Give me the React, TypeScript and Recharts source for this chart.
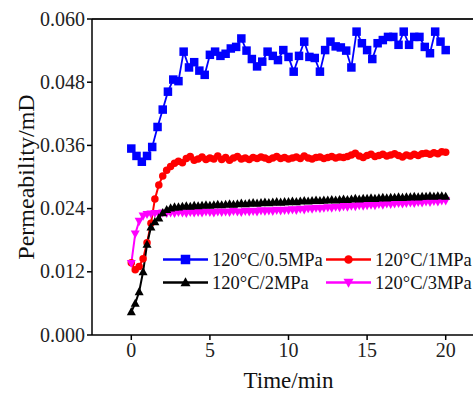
import React from "react";
import { LineChart, Line, XAxis, YAxis, ReferenceLine, Legend } from "recharts";

// ---- data ----
const timeBlue = [0,0.33,0.67,1,1.33,1.67,2,2.33,2.67,3,3.33,3.67,4,4.33,4.67,5,5.33,5.67,6,6.33,6.67,7,7.33,7.67,8,8.33,8.67,9,9.33,9.67,10,10.33,10.67,11,11.33,11.67,12,12.33,12.67,13,13.33,13.67,14,14.33,14.67,15,15.33,15.67,16,16.33,16.67,17,17.33,17.67,18,18.33,18.67,19,19.33,19.67,20];
const blue05MPa = [
  0.0354,0.0340,0.0329,0.0340,0.0357,0.0395,0.0428,0.0462,0.0485,0.0482,
  0.0538,0.0508,0.0518,0.0502,0.0494,0.0532,0.0538,0.0530,0.0534,0.0544,
  0.0547,0.0563,0.0540,0.0524,0.0510,0.0519,0.0538,0.0530,0.0522,0.0541,
  0.0528,0.0500,0.0530,0.0557,0.0528,0.0526,0.0500,0.0541,0.0557,0.0548,
  0.0546,0.0540,0.0508,0.0576,0.0554,0.0541,0.0524,0.0554,0.0560,0.0566,
  0.0566,0.0551,0.0576,0.0551,0.0566,0.0566,0.0547,0.0535,0.0576,0.0557,
  0.0541,
];

const timeDense = [
  0,0.25,0.5,0.75,1,1.25,1.5,1.75,2,2.25,
  2.5,2.75,3,3.25,3.5,3.75,4,4.25,4.5,4.75,
  5,5.25,5.5,5.75,6,6.25,6.5,6.75,7,7.25,
  7.5,7.75,8,8.25,8.5,8.75,9,9.25,9.5,9.75,
  10,10.25,10.5,10.75,11,11.25,11.5,11.75,12,12.25,
  12.5,12.75,13,13.25,13.5,13.75,14,14.25,14.5,14.75,
  15,15.25,15.5,15.75,16,16.25,16.5,16.75,17,17.25,
  17.5,17.75,18,18.25,18.5,18.75,19,19.25,19.5,19.75,
  20,
];
const red1MPa = [
  0.0137,0.0124,0.0130,0.0145,0.0175,0.0212,0.0258,0.0285,0.0302,0.0313,
  0.0320,0.0326,0.0330,0.0327,0.0335,0.0339,0.0332,0.0334,0.0338,0.0333,
  0.0336,0.0334,0.0340,0.0333,0.0337,0.0332,0.0336,0.0339,0.0334,0.0336,
  0.0333,0.0337,0.0335,0.0338,0.0336,0.0333,0.0336,0.0339,0.0335,0.0337,
  0.0334,0.0336,0.0338,0.0335,0.0340,0.0336,0.0334,0.0337,0.0338,0.0335,
  0.0337,0.0339,0.0336,0.0338,0.0337,0.0339,0.0342,0.0345,0.0340,0.0337,
  0.0341,0.0343,0.0339,0.0341,0.0343,0.0340,0.0342,0.0344,0.0341,0.0338,
  0.0342,0.0340,0.0343,0.0341,0.0344,0.0345,0.0343,0.0346,0.0344,0.0348,
  0.0347,
];
const black2MPa = [
  0.0044,0.0060,0.0082,0.0120,0.0172,0.0205,0.0215,0.0222,0.0232,0.0238,
  0.0241,0.0243,0.0243,0.0244,0.0245,0.0244,0.0246,0.0245,0.0246,0.0247,
  0.0246,0.0247,0.0248,0.0247,0.0248,0.0249,0.0248,0.0249,0.0250,0.0249,
  0.0250,0.0251,0.0250,0.0251,0.0252,0.0251,0.0252,0.0253,0.0252,0.0253,
  0.0253,0.0254,0.0253,0.0254,0.0255,0.0254,0.0255,0.0256,0.0255,0.0256,
  0.0256,0.0257,0.0256,0.0257,0.0258,0.0257,0.0258,0.0259,0.0258,0.0259,
  0.0259,0.0260,0.0259,0.0260,0.0261,0.0260,0.0261,0.0261,0.0262,0.0261,
  0.0262,0.0262,0.0263,0.0262,0.0263,0.0263,0.0264,0.0263,0.0264,0.0264,
  0.0263,
];
const magenta3MPa = [
  0.0136,0.0192,0.0216,0.0226,0.0229,0.0230,0.0231,0.0230,0.0232,0.0231,
  0.0232,0.0231,0.0233,0.0232,0.0231,0.0233,0.0232,0.0233,0.0232,0.0234,
  0.0233,0.0232,0.0234,0.0233,0.0234,0.0233,0.0235,0.0234,0.0233,0.0235,
  0.0234,0.0235,0.0234,0.0236,0.0235,0.0236,0.0235,0.0237,0.0236,0.0237,
  0.0237,0.0238,0.0237,0.0239,0.0238,0.0240,0.0239,0.0241,0.0240,0.0241,
  0.0242,0.0241,0.0243,0.0242,0.0244,0.0243,0.0245,0.0244,0.0246,0.0245,
  0.0246,0.0247,0.0246,0.0248,0.0247,0.0249,0.0248,0.0249,0.0250,0.0249,
  0.0250,0.0251,0.0250,0.0252,0.0251,0.0253,0.0252,0.0254,0.0253,0.0255,
  0.0255,
];

const xTicks = [0, 5, 10, 15, 20];
const yTicks = [0, 0.012, 0.024, 0.036, 0.048, 0.06];

type Shape = "square" | "circle" | "triangle" | "triangleDown";

const zip = (ts: number[], vs: number[]) => ts.map((t, i) => ({ t, v: vs[i] }));

const series = [
  { key: "b", name: "120°C/0.5MPa", color: "#0000FF", shape: "square" as Shape, size: 8.5, data: zip(timeBlue, blue05MPa), sw: 1.8 },
  { key: "r", name: "120°C/1MPa", color: "#FF0000", shape: "circle" as Shape, size: 7.5, data: zip(timeDense, red1MPa), sw: 2 },
  { key: "m", name: "120°C/3MPa", color: "#FF00FF", shape: "triangleDown" as Shape, size: 9, data: zip(timeDense, magenta3MPa), sw: 2 },
  { key: "k", name: "120°C/2MPa", color: "#000000", shape: "triangle" as Shape, size: 9, data: zip(timeDense, black2MPa), sw: 2 },
];

const legendOrder = ["b", "r", "k", "m"];

function Marker({ cx, cy, shape, color, size }: { cx: number; cy: number; shape: Shape; color: string; size: number }) {
  const h = size / 2;
  if (cx == null || cy == null || isNaN(cx) || isNaN(cy)) return null;
  switch (shape) {
    case "square":
      return <rect x={cx - h} y={cy - h} width={size} height={size} fill={color} />;
    case "circle":
      return <circle cx={cx} cy={cy} r={h} fill={color} />;
    case "triangle":
      return <polygon points={`${cx},${cy - h * 1.05} ${cx - h},${cy + h * 0.75} ${cx + h},${cy + h * 0.75}`} fill={color} />;
    case "triangleDown":
      return <polygon points={`${cx},${cy + h * 1.05} ${cx - h},${cy - h * 0.75} ${cx + h},${cy - h * 0.75}`} fill={color} />;
  }
  return null;
}

const SERIF = "Liberation Serif, DejaVu Serif, Times New Roman, serif";

function LegendContent() {
  const cols = [163, 326];
  const rows = [259.5, 282.5];
  const top = 240;
  return (
    <svg width={485} height={60} style={{ display: "block" }}>
      {legendOrder.map((k, i) => {
        const s = series.find((x) => x.key === k)!;
        const lx = cols[i % 2];
        const ly = rows[Math.floor(i / 2)] - top;
        return (
          <g key={k}>
            <line x1={lx} x2={lx + 45} y1={ly} y2={ly} stroke={s.color} strokeWidth={2.5} />
            <Marker cx={lx + 22.5} cy={ly} shape={s.shape} color={s.color} size={s.size + 1} />
            <text x={lx + 49} y={ly} dominantBaseline="central" fontSize={18.5} fill="#111" fontFamily={SERIF}>
              {s.name}
            </text>
          </g>
        );
      })}
    </svg>
  );
}

function XTick(props: any) {
  const { x, y, payload } = props;
  return (
    <text x={x} y={y} dy={15} textAnchor="middle" fontSize={20} fill="#222" fontFamily={SERIF}>
      {payload.value}
    </text>
  );
}

function YTick(props: any) {
  const { x, y, payload } = props;
  return (
    <text x={x} y={y} dy={6.5} textAnchor="end" fontSize={20} fill="#222" fontFamily={SERIF}>
      {Number(payload.value).toFixed(3)}
    </text>
  );
}

export default function App() {
  return (
    <div style={{ position: "absolute", left: 0, top: 0, width: 473, height: 394, overflow: "hidden", background: "#fff" }}>
      <LineChart width={485} height={394} margin={{ top: 19, right: 0, bottom: 0, left: 0 }}>
        <XAxis
          dataKey="t"
          type="number"
          domain={[-2.5, 22.5]}
          ticks={xTicks}
          axisLine={{ stroke: "#000", strokeWidth: 1.5 }}
          tickLine={{ stroke: "#000", strokeWidth: 1.5 }}
          tickSize={5}
          tick={<XTick />}
          height={59}
          label={{
            content: (p: any) => {
              const vb = p.viewBox || {};
              return (
                <text x={vb.x + vb.width / 2} y={vb.y + 53} textAnchor="middle" fontSize={23} fill="#111" fontFamily={SERIF}>
                  Time/min
                </text>
              );
            },
          }}
        />
        <YAxis
          type="number"
          domain={[0, 0.06]}
          ticks={yTicks}
          width={92}
          axisLine={{ stroke: "#000", strokeWidth: 1.5 }}
          tickLine={{ stroke: "#000", strokeWidth: 1.5 }}
          tickSize={5}
          tick={<YTick />}
          label={{
            content: (p: any) => {
              const vb = p.viewBox || {};
              const x = vb.x + 34;
              const y = vb.y + vb.height / 2;
              return (
                <text x={x} y={y} textAnchor="middle" fontSize={24} fill="#111" fontFamily={SERIF} transform={`rotate(-90, ${x}, ${y})`}>
                  Permeability/mD
                </text>
              );
            },
          }}
        />
        <ReferenceLine y={0.06} stroke="#222" strokeWidth={2} />
        {series.map((s) => (
          <Line
            key={s.key}
            data={s.data}
            dataKey="v"
            name={s.name}
            type="linear"
            stroke={s.color}
            strokeWidth={s.sw}
            isAnimationActive={false}
            dot={(p: any) => (
              <Marker key={`${s.key}-${p.index}`} cx={p.cx} cy={p.cy} shape={s.shape} color={s.color} size={s.size} />
            )}
            activeDot={false}
          />
        ))}
        <Legend
          layout="horizontal"
          verticalAlign="middle"
          align="center"
          wrapperStyle={{ left: 0, top: 240, width: 485, height: 60 }}
          content={() => <LegendContent />}
        />
      </LineChart>
    </div>
  );
}
